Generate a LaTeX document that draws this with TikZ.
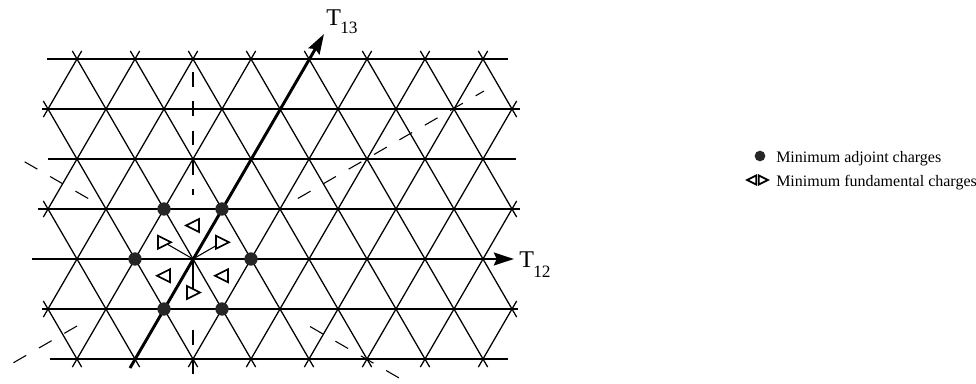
\documentclass[tikz,border=0pt]{standalone}
\usepackage{fontspec}
\setmainfont{Liberation Serif}
\usetikzlibrary{arrows.meta,calc}
\begin{document}
\begin{tikzpicture}[x=0.75pt,y=-0.75pt,
  lat/.style={line width=0.95pt},
  axisline/.style={line width=2.2pt,-{Stealth[length=15pt,width=9.5pt,inset=2pt]}},
  wall/.style={line width=0.8pt,dash pattern=on 11pt off 11pt},
  adj/.style={circle,fill=black!85,inner sep=0pt,minimum size=10pt},
  fund/.style={line width=1.3pt,fill=white},
  vec/.style={line width=0.8pt},
  lbl/.style={font=\fontsize{18}{20}\selectfont,inner sep=0pt,anchor=base west},
  leg/.style={font=\fontsize{12}{14}\selectfont,anchor=base west,inner sep=0pt},
  rtri/.pic={\draw[fund] (-6,-6.5) -- (7,0) -- (-6,6.5) -- cycle;},
  ltri/.pic={\draw[fund] (6,-6.5) -- (-7,0) -- (6,6.5) -- cycle;}]
\useasboundingbox (0,0) rectangle (976,383);

% dashed walls
\draw[wall] (297.8,198.5) -- (484,91);
\draw[wall] (88.2,198.5) -- (12,154.5);
\draw[wall] (310,326.5) -- (400,378.5);
\draw[wall] (77,326) -- (13,363);
\draw[wall] (193,72) -- (193,195);
\draw[wall] (193,330) -- (193,383);

% horizontal lattice lines
\foreach \y/\xa/\xb in {59/47/508, 109/42/520, 159/48/516, 209/38/520, 309/42/518, 359/50/508}
  \draw[lat] (\xa,\y) -- (\xb,\y);

% up-right diagonals
\foreach \c in {-8,-6,...,12}{
  \pgfmathtruncatemacro\ja{max(-2,-5-(\c))}
  \pgfmathtruncatemacro\jb{min(4,11-(\c))}
  \ifnum\c=0\relax\else
  \draw[lat,shorten <=-7pt,shorten >=-7pt]
    ({193+29*(\c+(\ja))},{259-50*(\ja)}) -- ({193+29*(\c+(\jb))},{259-50*(\jb)});
  \fi
}
% up-left diagonals
\foreach \c in {-6,-4,...,14}{
  \pgfmathtruncatemacro\ja{max(-2,\c-11)}
  \pgfmathtruncatemacro\jb{min(4,\c+5)}
  \draw[lat,shorten <=-7pt,shorten >=-7pt]
    ({193+29*(\c-(\ja))},{259-50*(\ja)}) -- ({193+29*(\c-(\jb))},{259-50*(\jb)});
}

% axes
\coordinate (O) at (193,259);
\coordinate (x0) at (32,259);
\coordinate (x1) at (514,259);
\coordinate (y0) at (130,368);
\coordinate (y1) at (324,34);
\draw[axisline] (x0) -- (x1);
\draw[axisline] (y0) -- (y1);
\node[lbl] (t12) at (519,267) {T\kern-0.5pt\raisebox{-7.5pt}{\fontsize{13}{13}\selectfont 12}};
\node[lbl] (t13) at (326,25) {T\kern-0.5pt\raisebox{-6pt}{\fontsize{13}{13}\selectfont 13}};

% fundamental weights
\coordinate (w1) at (222,242.25);
\coordinate (w2) at (164,242.25);
\coordinate (w3) at (193,292.5);
\draw[vec] (O) -- (w1);
\draw[vec] (O) -- (w2);
\draw[vec] (O) -- (w3);
\pic at (w1) {rtri};
\pic at (w2) {rtri};
\pic at (w3) {rtri};
\pic at (193,225.5) {ltri};
\pic at (164,275.75) {ltri};
\pic at (222,275.75) {ltri};

% adjoint charges
\node[adj] (a1) at (135,259) {};
\node[adj] (a2) at (251,259) {};
\node[adj] (a3) at (164,209) {};
\node[adj] (a4) at (222,209) {};
\node[adj] (a5) at (164,309) {};
\node[adj] (a6) at (222,309) {};

% legend
\node[adj,minimum size=8pt] (ld) at (760,156) {};
\node[leg] (l1) at (776,162) {Minimum adjoint charges};
\pic[scale=0.7] at (752,180) {ltri};
\pic[scale=0.7] at (763,180) {rtri};
\node[leg] (l2) at (776,186) {Minimum fundamental charges};
\end{tikzpicture}
\end{document}
